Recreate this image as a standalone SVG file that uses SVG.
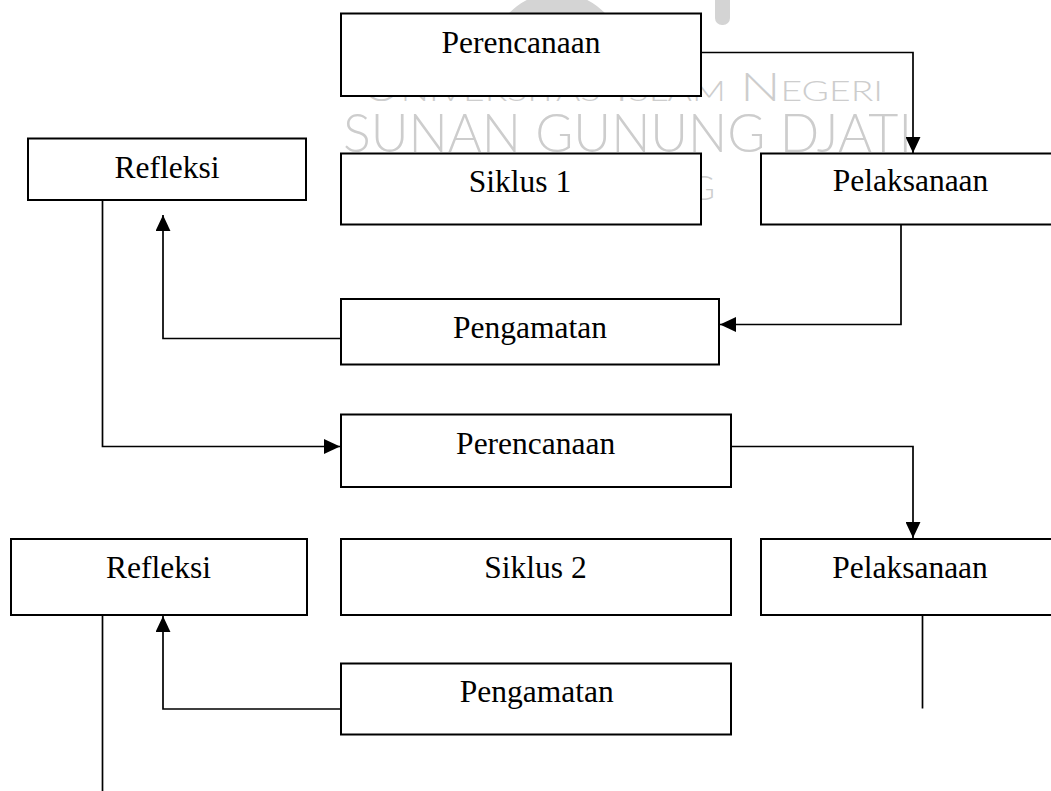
<svg xmlns="http://www.w3.org/2000/svg" width="1051" height="791" viewBox="0 0 1051 791">
<style>
.box{fill:#fff;stroke:#000;stroke-width:2}
.lbl{font-family:"Liberation Serif","Times New Roman",serif;font-size:31.5px;fill:#000;text-anchor:middle}
.con{fill:none;stroke:#000;stroke-width:1.7}
.wm{font-family:Lato,"Open Sans",sans-serif;font-weight:300;fill:#cdcdcd}
</style>
<defs>
<marker id="ah" markerUnits="userSpaceOnUse" markerWidth="16" markerHeight="15" viewBox="0 0 15 14" refX="15" refY="7" orient="auto">
<path d="M0,0 L15,7 L0,14 z" fill="#000"/>
</marker>
<clipPath id="logoclip"><rect x="0" y="0" width="1051" height="14"/></clipPath>
</defs>
<rect width="1051" height="791" fill="#fff"/>
<g id="watermark">
<g clip-path="url(#logoclip)">
<circle cx="557" cy="60" r="55" fill="none" stroke="#d4d4d4" stroke-width="24"/>
</g>
<rect x="715" y="-10" width="15" height="35" rx="7" fill="#d4d4d4"/>
<text class="wm" x="362" y="101" font-size="40" font-variant="small-caps" textLength="521" lengthAdjust="spacingAndGlyphs">Universitas Islam Negeri</text>
<text class="wm" x="343" y="151.5" font-size="54" textLength="569" lengthAdjust="spacingAndGlyphs">SUNAN GUNUNG DJATI</text>
<text class="wm" x="690" y="200" font-size="34">G</text>
</g>
<g id="n-per1"><rect class="box" x="341" y="13.5" width="360" height="82.5"/><text class="lbl" x="521" y="52.5">Perencanaan</text></g>
<g id="n-sik1"><rect class="box" x="341" y="153.5" width="360" height="71"/><text class="lbl" x="520" y="191.5">Siklus 1</text></g>
<g id="n-pel1"><rect class="box" x="761" y="153.5" width="300" height="71"/><text class="lbl" x="910.5" y="191">Pelaksanaan</text></g>
<g id="n-ref1"><rect class="box" x="28" y="138.5" width="278" height="61.5"/><text class="lbl" x="167" y="178.3">Refleksi</text></g>
<g id="n-pen1"><rect class="box" x="341" y="299" width="378" height="65.5"/><text class="lbl" x="530" y="338.3">Pengamatan</text></g>
<g id="n-per2"><rect class="box" x="341" y="414.5" width="390" height="72.5"/><text class="lbl" x="535.7" y="454">Perencanaan</text></g>
<g id="n-ref2"><rect class="box" x="11" y="539" width="296" height="76"/><text class="lbl" x="158.5" y="577.7">Refleksi</text></g>
<g id="n-sik2"><rect class="box" x="341" y="539" width="390" height="76"/><text class="lbl" x="535.5" y="577.7">Siklus 2</text></g>
<g id="n-pel2"><rect class="box" x="761" y="539" width="300" height="76"/><text class="lbl" x="910" y="577.7">Pelaksanaan</text></g>
<g id="n-pen2"><rect class="box" x="341" y="663.5" width="390" height="71"/><text class="lbl" x="536.7" y="702.3">Pengamatan</text></g>
<g id="connectors">
<path class="con" d="M702,52.5 H913 V153" marker-end="url(#ah)"/>
<path class="con" d="M901,225 V324.5 H720" marker-end="url(#ah)"/>
<path class="con" d="M340,338.5 H163 V215" marker-end="url(#ah)"/>
<path class="con" d="M102.5,201 V446.5 H340" marker-end="url(#ah)"/>
<path class="con" d="M732,446.5 H913 V538" marker-end="url(#ah)"/>
<path class="con" d="M922.5,616 V708.5"/>
<path class="con" d="M340,709 H163 V616" marker-end="url(#ah)"/>
<path class="con" d="M102.5,616 V791"/>
</g>
</svg>
